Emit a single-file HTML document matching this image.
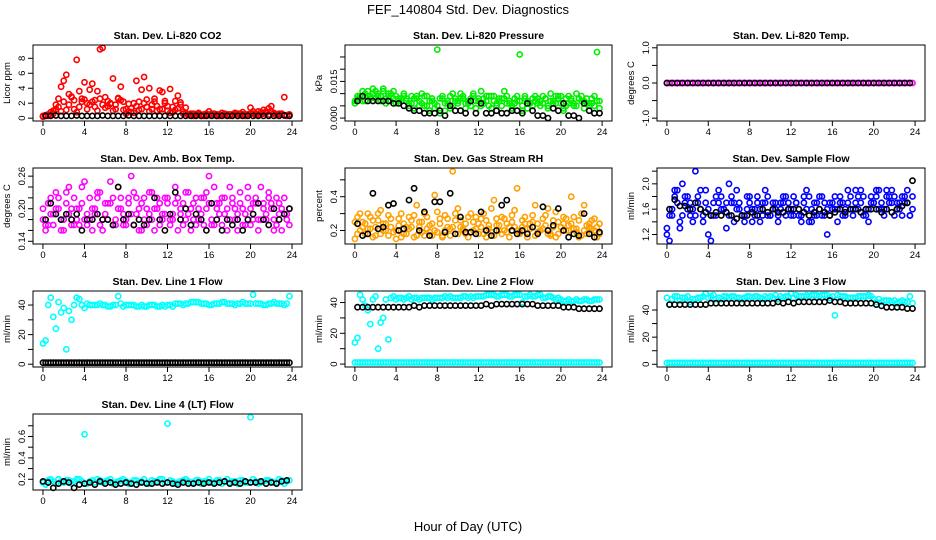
<!DOCTYPE html>
<html><head><meta charset="utf-8"><style>
html,body{margin:0;padding:0;background:#fff}
svg{display:block;font-family:"Liberation Sans",Arial,sans-serif}
</style></head><body>
<svg id="chart" width="936" height="540" viewBox="0 0 936 540" xmlns="http://www.w3.org/2000/svg">
<rect width="936" height="540" fill="#fff"/>
<text x="468" y="14" font-size="13" text-anchor="middle">FEF_140804  Std. Dev. Diagnostics</text>
<text x="468" y="531" font-size="13" text-anchor="middle">Hour of Day (UTC)</text>
</svg>
<script>
const hoursA=[0,0.5,1,1.5,2,2.5,3,3.5,4,4.5,5,5.5,6,6.5,7,7.5,8,8.5,9,9.5,10,10.5,11,11.5,12,12.5,13,13.5,14,14.5,15,15.5,16,16.5,17,17.5,18,18.5,19,19.5,20,20.5,21,21.5,22,22.5,23,23.5];
const hoursB=[0.25,0.75,1.25,1.75,2.25,2.75,3.25,3.75,4.25,4.75,5.25,5.75,6.25,6.75,7.25,7.75,8.25,8.75,9.25,9.75,10.25,10.75,11.25,11.75,12.25,12.75,13.25,13.75,14.25,14.75,15.25,15.75,16.25,16.75,17.25,17.75,18.25,18.75,19.25,19.75,20.25,20.75,21.25,21.75,22.25,22.75,23.25,23.75];
const xTicks=[0,4,8,12,16,20,24];

const co2A=[0.3,0.5,1.0,2.6,5.0,3.2,2.4,3.6,4.8,3.8,1.5,9.2,2.8,2.0,1.8,4.2,1.2,0.8,5.0,3.8,1.5,1.2,1.0,3.5,1.6,0.8,3.0,0.6,0.5,0.6,0.7,0.5,0.9,0.4,0.5,0.6,0.5,0.7,0.6,0.5,1.4,0.6,0.8,0.9,1.6,0.5,0.6,0.4];
const co2B=[0.4,0.8,1.8,4.2,5.8,2.8,7.8,2.2,2.0,4.6,3.6,9.4,1.6,5.3,2.6,2.2,0.9,2.0,2.2,5.5,4.0,2.6,3.7,2.3,3.9,2.3,1.8,1.4,0.6,0.5,0.4,0.6,0.5,0.5,0.7,0.4,0.5,0.6,0.8,0.5,0.6,0.9,1.1,1.3,0.6,0.5,2.8,0.4];
const co2C=[0.2,0.3,0.6,1.5,2.2,1.8,1.2,1.5,2.5,1.8,2.4,2.6,1.4,1.9,1.2,2.4,0.6,1.3,1.6,1.2,2.5,1.8,1.6,1.2,1.0,1.5,1.3,0.9,0.4,0.3,0.5,0.3,0.4,0.6,0.3,0.4,0.3,0.5,0.4,0.3,0.6,0.4,0.5,0.7,0.9,0.4,0.5,0.3];
const co2D=[0.3,0.4,1.2,0.9,1.1,2.9,0.8,2.6,1.2,2.2,1.0,1.8,2.3,1.0,2.7,1.1,1.9,0.7,1.1,2.0,0.9,2.2,1.2,2.0,0.7,1.1,2.1,0.7,0.5,0.4,0.3,0.4,0.6,0.3,0.4,0.5,0.4,0.3,0.5,0.4,0.9,0.5,0.6,0.5,0.7,0.6,0.4,0.5];
const co2Black=[0.3,0.3,0.35,0.3,0.3,0.3,0.35,0.3,0.3,0.3,0.3,0.35,0.3,0.3,0.3,0.3,0.35,0.3,0.3,0.3,0.3,0.3,0.3,0.3,0.3,0.3,0.3,0.3,0.3,0.3,0.3,0.3,0.3,0.3,0.3,0.3,0.3,0.3,0.3,0.3,0.3,0.3,0.3,0.3,0.3,0.3,0.35,0.3];

const presA=[7,9,10,8,11,9,8,10,9,7,8,6,9,10,5,8,28,9,7,10,6,9,7,10,8,6,9,7,8,11,7,6,26,8,6,9,7,8,10,6,9,5,8,10,7,8,6,27];
const presB=[8,11,9,12,10,11,9,8,7,10,6,8,5,9,7,4,8,3,9,8,10,6,8,4,11,7,9,5,8,6,4,9,3,7,8,6,9,4,7,8,3,9,6,8,7,5,9,4];
const presC=[6,8,7,9,8,7,6,7,6,8,7,9,8,6,9,7,5,8,6,5,7,8,6,9,7,8,5,9,7,8,6,8,7,9,6,7,5,8,7,9,6,8,7,5,9,6,8,7];
const presD=[9,7,11,10,9,12,10,11,8,9,5,4,7,5,3,6,2,6,4,7,8,4,5,7,5,9,4,6,5,9,5,7,5,4,5,8,6,5,6,9,4,6,5,8,4,6,5,7];
const presBlack=[7,9,7,7,7,7,7,6,6,5,4,3,3,2,2,2,3,1,5,3,3,2,7,2,6,2,2,3,2,2,3,3,2,6,3,1,1,0,4,3,6,1,1,0,6,3,2,2];

const tempA=[0,0,0,0,0,0,0,0,0,0,0,0,0,0,0,0,0,0,0,0,0,0,0,0,0,0,0,0,0,0,0,0,0,0,0,0,0,0,0,0,0,0,0,0,0,0,0,0];
const tempBlack=[0,0,0,0,0,0,0,0,0,0,0,0,0,0,0,0,0,0,0,0,0,0,0,0,0,0,0,0,0,0,0,0,0,0,0,0,0,0,0,0,0,0,0,0,0,0,0,0];

const ambA=[.18,.21,.17,.20,.16,.19,.22,.17,.25,.18,.20,.23,.19,.21,.17,.22,.18,.26,.19,.21,.17,.23,.20,.18,.22,.19,.16,.21,.23,.18,.20,.17,.21,.24,.19,.22,.18,.20,.23,.19,.17,.21,.24,.18,.20,.22,.16,.19];
const ambB=[.16,.19,.23,.18,.21,.17,.20,.24,.19,.16,.22,.18,.21,.17,.24,.19,.22,.17,.20,.18,.23,.16,.21,.19,.17,.24,.20,.18,.16,.22,.19,.23,.17,.20,.22,.16,.21,.19,.17,.24,.21,.18,.20,.23,.16,.21,.19,.17];
const ambC=[.20,.17,.19,.22,.18,.24,.17,.20,.18,.22,.19,.17,.21,.25,.18,.20,.17,.19,.22,.16,.20,.18,.22,.19,.21,.18,.22,.17,.19,.21,.18,.22,.26,.17,.21,.19,.24,.18,.21,.17,.20,.22,.18,.19,.21,.17,.20,.18];
const ambD=[.17,.22,.20,.16,.23,.20,.18,.21,.17,.20,.23,.16,.18,.22,.20,.17,.21,.23,.16,.22,.19,.20,.17,.22,.18,.21,.19,.23,.20,.17,.22,.20,.18,.21,.17,.20,.22,.16,.20,.22,.18,.16,.21,.22,.18,.19,.22,.20];
const ambBlack=[.18,.21,.19,.18,.19,.18,.19,.16,.18,.18,.19,.18,.18,.17,.24,.18,.19,.17,.18,.17,.18,.22,.18,.16,.19,.23,.18,.20,.17,.19,.18,.16,.21,.18,.16,.18,.17,.18,.16,.18,.19,.21,.18,.17,.20,.18,.19,.20];

const rhA=[.25,.30,.18,.28,.22,.32,.20,.27,.15,.30,.22,.26,.35,.19,.28,.24,.31,.17,.27,.22,.33,.20,.28,.25,.18,.30,.23,.38,.20,.27,.22,.32,.18,.28,.24,.35,.20,.29,.17,.31,.22,.27,.40,.21,.30,.18,.26,.22];
const rhB=[.18,.22,.30,.16,.26,.20,.29,.36,.23,.18,.28,.16,.22,.30,.19,.41,.24,.20,.17,.26,.22,.18,.30,.21,.27,.16,.33,.23,.28,.19,.25,.45,.22,.16,.29,.24,.21,.33,.26,.18,.24,.20,.28,.16,.35,.24,.20,.18];
const rhC=[.15,.20,.24,.21,.17,.18,.24,.22,.20,.16,.18,.22,.17,.25,.21,.17,.19,.16,.22,.55,.18,.21,.16,.20,.24,.18,.21,.17,.23,.20,.16,.22,.19,.24,.21,.17,.20,.23,.18,.16,.22,.20,.24,.19,.17,.23,.21,.16];
const rhD=[.28,.25,.21,.26,.30,.24,.17,.19,.27,.24,.21,.29,.25,.17,.23,.20,.27,.29,.21,.30,.26,.24,.19,.28,.22,.26,.19,.27,.18,.24,.29,.20,.26,.21,.25,.19,.27,.18,.22,.25,.28,.23,.21,.26,.20,.22,.27,.24];
const rhBlack=[.24,.17,.18,.42,.21,.22,.35,.36,.20,.21,.38,.45,.20,.31,.17,.37,.37,.19,.42,.18,.28,.19,.19,.18,.31,.20,.17,.20,.35,.38,.20,.18,.20,.18,.22,.18,.34,.20,.23,.33,.20,.16,.18,.17,.30,.18,.16,.19];

const flowA=[1.2,1.5,1.9,2.0,1.6,1.4,1.8,1.5,1.2,1.7,1.9,1.6,2.0,1.4,1.7,1.5,1.8,1.6,1.4,1.9,1.5,1.7,1.6,1.8,1.5,1.7,1.4,1.9,1.6,1.5,1.8,1.2,1.6,1.4,1.7,1.9,1.5,1.6,1.8,1.4,1.7,1.9,1.6,1.8,1.5,1.7,1.8,1.5];
const flowB=[1.1,1.8,1.3,1.7,1.5,2.2,1.6,1.9,1.1,1.5,1.8,1.3,1.7,1.9,1.5,1.6,1.4,1.8,1.7,1.5,1.6,1.4,1.8,1.7,1.5,1.6,1.8,1.4,1.7,1.6,1.5,1.7,1.6,1.8,1.5,1.6,1.7,1.9,1.6,1.7,1.8,1.6,1.9,1.7,1.6,1.8,1.7,1.6];
const flowC=[1.3,1.6,1.7,1.5,1.8,1.6,1.7,1.4,1.6,1.5,1.7,1.6,1.5,1.7,1.6,1.4,1.7,1.5,1.6,1.7,1.5,1.6,1.7,1.5,1.6,1.7,1.5,1.6,1.4,1.7,1.5,1.6,1.7,1.6,1.5,1.7,1.6,1.8,1.5,1.6,1.7,1.6,1.5,1.7,1.8,1.6,1.7,1.5];
const flowD=[1.5,1.9,1.4,1.8,1.7,1.5,1.9,1.7,1.5,1.8,1.6,1.7,1.8,1.6,1.5,1.8,1.6,1.7,1.5,1.8,1.7,1.5,1.7,1.6,1.8,1.5,1.7,1.8,1.5,1.8,1.7,1.5,1.8,1.7,1.6,1.8,1.9,1.7,1.5,1.8,1.9,1.7,1.8,1.9,1.7,1.5,1.9,1.8];
const flowBlack=[1.6,1.75,1.65,1.65,1.6,1.7,1.6,1.55,1.5,1.55,1.5,1.55,1.5,1.45,1.5,1.5,1.55,1.5,1.6,1.55,1.6,1.55,1.55,1.6,1.6,1.6,1.55,1.5,1.55,1.6,1.55,1.5,1.55,1.6,1.55,1.6,1.6,1.55,1.6,1.6,1.6,1.55,1.6,1.55,1.6,1.65,1.7,2.05];

const lowOnes=[1,1,1,1,1,1,1,1,1,1,1,1,1,1,1,1,1,1,1,1,1,1,1,1,1,1,1,1,1,1,1,1,1,1,1,1,1,1,1,1,1,1,1,1,1,1,1,1];

const line1A=[14,40,32,42,38,36,40,44,38,40,40,41,40,39,40,41,40,40,39,40,39,40,39,40,40,39,41,40,41,42,42,41,40,41,41,42,41,40,41,41,41,41,41,40,41,41,41,41];
const line1B=[16,45,24,35,10,30,45,40,41,40,40,40,39,40,46,39,40,40,39,39,40,40,39,39,40,41,41,41,42,42,41,41,40,41,42,41,41,41,42,41,47,41,40,41,42,41,40,46];

const line2A=[14,45,38,26,44,27,42,43,42,43,43,42,43,43,43,42,43,43,43,43,43,44,43,43,44,44,45,45,44,45,44,45,45,44,45,44,45,43,44,42,42,41,41,42,41,42,41,42];
const line2B=[17,42,35,42,10,30,16,44,43,42,44,43,42,43,43,43,43,44,44,43,43,44,44,44,44,45,45,44,45,45,44,45,40,44,44,45,43,44,43,43,41,42,41,41,42,41,42,42];
const line2Black=[37,37,37,37,37,37,37,37,37,37,37,38,37,38,38,38,38,38,38,38,38,38,38,38,38,39,38,39,39,39,39,39,39,39,39,38,38,38,38,38,37,37,37,36,36,36,36,36];

const line3A=[49,48,50,49,50,48,49,50,49,51,49,50,49,50,49,49,50,50,49,50,50,51,50,50,52,51,50,51,51,51,51,51,50,51,50,49,49,50,50,51,48,48,47,47,47,46,46,50];
const line3B=[44,50,47,49,46,48,49,52,50,48,48,50,50,49,48,50,49,50,48,49,49,48,49,50,49,50,50,50,51,50,51,49,36,50,50,49,49,50,50,50,46,46,47,46,45,47,46,45];
const line3Black=[44,44,44,44,44,44,44,44,45,45,45,45,45,45,45,45,45,45,45,45,45,46,45,46,45,46,46,46,46,46,46,47,46,46,45,45,45,45,45,45,44,43,42,42,42,42,41,41];

const line4A=[.17,.19,.18,.20,.17,.19,.18,.20,.62,.18,.17,.19,.18,.20,.17,.19,.18,.17,.19,.18,.17,.19,.18,.20,.72,.18,.17,.19,.18,.17,.19,.18,.20,.17,.19,.18,.17,.18,.19,.17,.78,.18,.17,.19,.18,.17,.19,.18];
const line4B=[.15,.20,.16,.18,.19,.16,.20,.18,.16,.19,.20,.17,.19,.16,.18,.20,.16,.19,.17,.20,.16,.18,.20,.17,.19,.16,.18,.20,.17,.19,.16,.18,.17,.19,.16,.20,.18,.16,.19,.17,.20,.16,.18,.19,.17,.20,.16,.19];
const line4Black=[.18,.17,.12,.16,.18,.17,.12,.15,.16,.17,.15,.18,.16,.17,.15,.16,.17,.16,.15,.17,.16,.16,.17,.16,.17,.16,.15,.17,.16,.16,.17,.16,.17,.16,.17,.18,.16,.17,.16,.18,.17,.17,.18,.16,.17,.16,.18,.19];

const yTicksCO2=[0,2,4,6,8], yLabCO2=["0","2","4","6","8"];
const yTicksPres=[0,5,10,15,20,25], yLabPres=["0.000","","","0.015","",""];
const yTicksTemp=[-1,-0.5,0,0.5,1], yLabTemp=["-1.0","","0.0","","1.0"];
const yTicksAmb=[0.14,0.16,0.18,0.20,0.22,0.24,0.26], yLabAmb=["0.14","","","0.20","","","0.26"];
const yTicksRH=[0.2,0.3,0.4,0.5], yLabRH=["0.2","","0.4",""];
const yTicksFlow=[1.2,1.4,1.6,1.8,2.0,2.2], yLabFlow=["1.2","","1.6","","2.0",""];
const yTicksLine=[0,10,20,30,40], yLabLine=["0","","20","","40"];
const yTicksL4=[0.2,0.3,0.4,0.5,0.6,0.7], yLabL4=["0.2","","0.4","","0.6",""];

const svg=document.getElementById('chart');
const NS='http://www.w3.org/2000/svg';
function el(tag,attrs,parent){const e=document.createElementNS(NS,tag);for(const k in attrs)e.setAttribute(k,attrs[k]);(parent||svg).appendChild(e);return e;}

const cols=[[33,302],[345,612],[657,925]];
const rowTop=[45,168,291,414], rowH=76;

const panels=[
 {name:'co2',title:'Stan. Dev. Li-820 CO2',ylab:'Licor ppm',c:0,r:0,dom:[-0.38,9.78],yt:yTicksCO2,yl:yLabCO2,col:'#ff0000',series:[[hoursA,co2C],[hoursB,co2D],[hoursA,co2A],[hoursB,co2B]],black:[[hoursB,co2Black]]},
 {name:'pressure',title:'Stan. Dev. Li-820 Pressure',ylab:'kPa',c:1,r:0,dom:[-1.2,29.9],yt:yTicksPres,yl:yLabPres,col:'#00ee00',series:[[hoursA,presC],[hoursB,presD],[hoursA,presA],[hoursB,presB]],black:[[hoursB,presBlack]]},
 {name:'temp',title:'Stan. Dev. Li-820 Temp.',ylab:'degrees C',c:2,r:0,dom:[-1.08,1.08],yt:yTicksTemp,yl:yLabTemp,col:'#ff00ff',series:[[hoursA,tempA],[hoursB,tempA]],black:[[hoursA,tempBlack]]},
 {name:'amb-box-temp',title:'Stan. Dev. Amb. Box Temp.',ylab:'degrees C',c:0,r:1,dom:[0.135,0.275],yt:yTicksAmb,yl:yLabAmb,col:'#ff00ff',series:[[hoursA,ambA],[hoursB,ambB],[hoursA,ambC],[hoursB,ambD]],black:[[hoursB,ambBlack]]},
 {name:'gas-rh',title:'Stan. Dev. Gas Stream RH',ylab:'percent',c:1,r:1,dom:[0.12,0.57],yt:yTicksRH,yl:yLabRH,col:'#ffa000',series:[[hoursA,rhA],[hoursB,rhB],[hoursA,rhC],[hoursB,rhD]],black:[[hoursB,rhBlack]]},
 {name:'sample-flow',title:'Stan. Dev. Sample Flow',ylab:'ml/min',c:2,r:1,dom:[1.05,2.25],yt:yTicksFlow,yl:yLabFlow,col:'#0000ff',series:[[hoursA,flowA],[hoursB,flowB],[hoursA,flowC],[hoursB,flowD]],black:[[hoursB,flowBlack]]},
 {name:'line1-flow',title:'Stan. Dev. Line 1 Flow',ylab:'ml/min',c:0,r:2,dom:[-1.9,49.5],yt:yTicksLine,yl:yLabLine,col:'#00ffff',series:[[hoursA,line1A],[hoursB,line1B]],black:[[hoursA,lowOnes],[hoursB,lowOnes]]},
 {name:'line2-flow',title:'Stan. Dev. Line 2 Flow',ylab:'ml/min',c:1,r:2,dom:[-1.9,47.5],yt:yTicksLine,yl:yLabLine,col:'#00ffff',series:[[hoursA,line2A],[hoursB,line2B],[hoursA,lowOnes],[hoursB,lowOnes]],black:[[hoursB,line2Black]]},
 {name:'line3-flow',title:'Stan. Dev. Line 3 Flow',ylab:'ml/min',c:2,r:2,dom:[-2,54],yt:yTicksLine,yl:yLabLine,col:'#00ffff',series:[[hoursA,line3A],[hoursB,line3B],[hoursA,lowOnes],[hoursB,lowOnes]],black:[[hoursB,line3Black]]},
 {name:'line4-flow',title:'Stan. Dev. Line 4 (LT) Flow',ylab:'ml/min',c:0,r:3,dom:[0.1,0.81],yt:yTicksL4,yl:yLabL4,col:'#00ffff',series:[[hoursA,line4A],[hoursB,line4B]],black:[[hoursA,line4Black]]}
];

panels.forEach(p=>{
 const [x0,x1]=cols[p.c]; const y0=rowTop[p.r], y1=y0+rowH;
 const g=el('g',{});
 
 
 const xs=v=>x0+(v+0.96)/25.92*(x1-x0);
 const ys=v=>y1-(v-p.dom[0])/(p.dom[1]-p.dom[0])*(y1-y0);
 const t=el('text',{x:(x0+x1)/2,y:y0-6,'font-size':'10.5','font-weight':'bold','text-anchor':'middle'},g);
 t.textContent=p.title;
 
 
 const yl=el('text',{transform:`translate(${x0-23},${(y0+y1)/2}) rotate(-90)`,'font-size':'9.5','text-anchor':'middle'},g);
 yl.textContent=p.ylab;
 
 
 function draw(list,color){
  list.forEach(([xa,ya])=>{
   ya.forEach((v,i)=>{
    const c=el('circle',{cx:xs(xa[i]).toFixed(1),cy:ys(v).toFixed(1),r:2.6,fill:'none',stroke:color,'stroke-width':1.6},g);
    
    
   });
  });
 }
 draw(p.series,p.col);
 draw(p.black,'#000');
 const box=el('rect',{x:x0,y:y0,width:x1-x0,height:y1-y0,fill:'none',stroke:'#000','stroke-width':1},g);
 
 
 const xa=el('g',{},g);
 
 
 el('line',{x1:xs(xTicks[0]),x2:xs(xTicks[xTicks.length-1]),y1:y1,y2:y1,stroke:'#000'},xa);
 xTicks.forEach(v=>{
  el('line',{x1:xs(v),x2:xs(v),y1:y1,y2:y1+5,stroke:'#000'},xa);
  const tl=el('text',{x:xs(v),y:y1+14,'font-size':'9.5','text-anchor':'middle'},xa);
  tl.textContent=String(v);
 });
 const ya=el('g',{},g);
 
 
 el('line',{x1:x0,x2:x0,y1:ys(p.yt[0]),y2:ys(p.yt[p.yt.length-1]),stroke:'#000'},ya);
 p.yt.forEach((v,i)=>{
  el('line',{x1:x0-5,x2:x0,y1:ys(v),y2:ys(v),stroke:'#000'},ya);
  if(p.yl[i]){
   const tl=el('text',{transform:`translate(${x0-8},${ys(v)}) rotate(-90)`,'font-size':'9.5','text-anchor':'middle'},ya);
   tl.textContent=p.yl[i];
  }
 });
});
</script>
</body></html>
